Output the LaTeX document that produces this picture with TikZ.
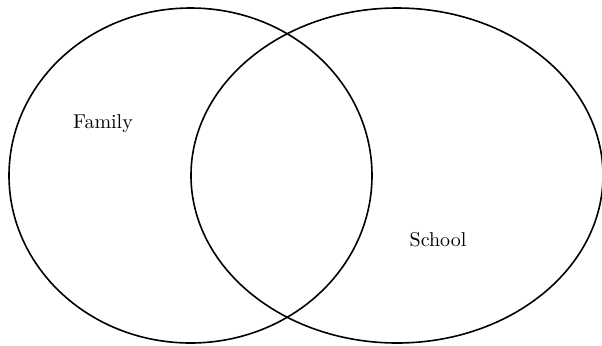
\documentclass[tikz,border=0pt]{standalone}
\usetikzlibrary{shapes.geometric}

\begin{document}
\begin{tikzpicture}[
        x=0.5pt, y=-0.5pt,
        set/.style={draw, ellipse, line width=0.8pt, inner sep=0pt, minimum height=167.5pt},
        setlabel/.style={font=\normalsize, inner sep=0pt}
    ]
        \useasboundingbox (0,0) rectangle (602,345);

        \node[set, minimum width=181.5pt] (family) at (190.5,175.5) {};
        \node[set, minimum width=206pt] (school) at (397,175.5) {};

        \node[setlabel] (familytext) at (103,124) {Family};
        \node[setlabel] (schooltext) at (438,240) {School};
    \end{tikzpicture}
\end{document}
